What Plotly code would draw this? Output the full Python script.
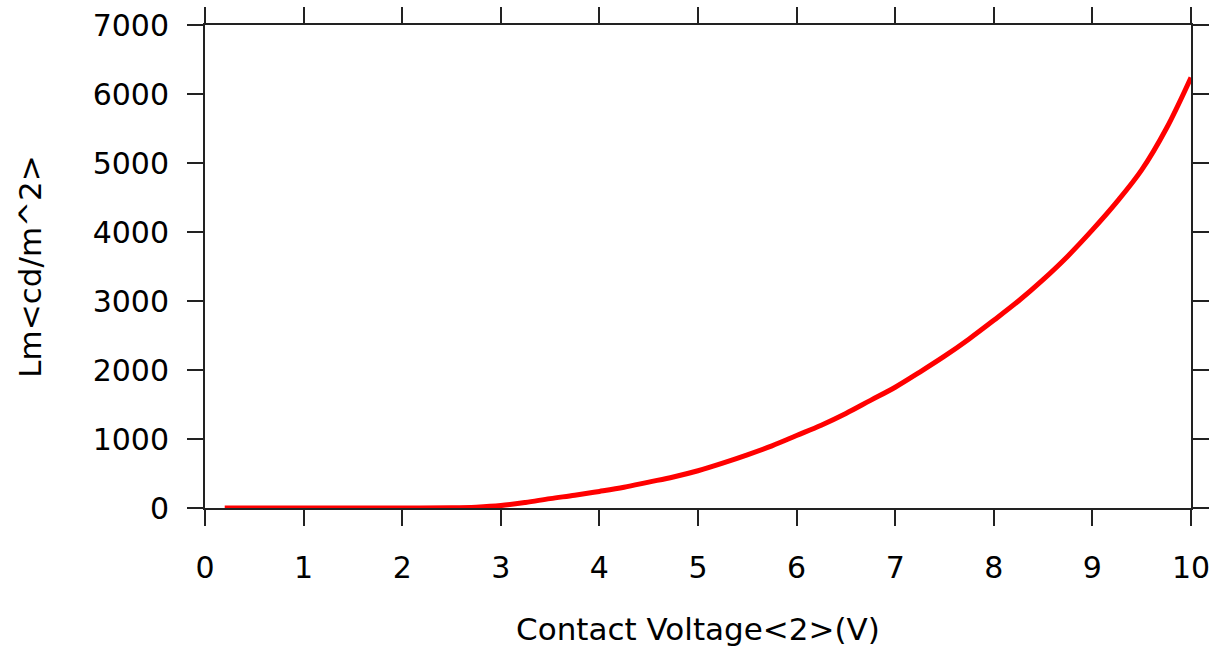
import plotly.graph_objects as go

voltage = [0.2, 0.5, 1.0, 1.5, 2.0, 2.5, 2.75, 3.0, 3.25, 3.5, 3.75, 4.0, 4.25, 4.5, 4.75,
           5.0, 5.25, 5.5, 5.75, 6.0, 6.25, 6.5, 6.75, 7.0, 7.25, 7.5, 7.75,
           8.0, 8.25, 8.5, 8.75, 9.0, 9.25, 9.5, 9.75, 10.0]
luminance = [0, 0, 0, 0, 0, 3, 12, 35, 80, 136, 185, 240, 300, 375, 450,
             540, 650, 770, 900, 1050, 1200, 1370, 1560, 1750, 1970, 2200, 2450,
             2720, 3000, 3310, 3650, 4030, 4440, 4900, 5500, 6240]

x_ticks = list(range(0, 11))
y_ticks = list(range(0, 7001, 1000))

axis_color = "#222222"
font_family = "DejaVu Sans"

fig = go.Figure()
fig.add_trace(go.Scatter(
    x=voltage, y=luminance, mode="lines",
    line=dict(color="#ff0000", width=5, shape="spline", smoothing=1.0),
    showlegend=False,
))

common = dict(
    showline=True, linecolor=axis_color, linewidth=2,
    ticks="outside", ticklen=16, tickwidth=2, tickcolor=axis_color,
    mirror="ticks", showgrid=False, zeroline=False,
    tickfont=dict(family=font_family, size=30, color="#000000"),
    layer="above traces",
)

fig.update_layout(
    width=1225, height=650,
    margin=dict(l=205, r=34, t=25, b=142, autoexpand=False),
    paper_bgcolor="white", plot_bgcolor="white",
    font=dict(family=font_family, color="#000000"),
    xaxis=dict(
        range=[0, 10], tickvals=x_ticks, ticktext=[str(v) for v in x_ticks],
        ticklabelstandoff=16,
        title=dict(text="Contact Voltage<2>(V)", font=dict(family=font_family, size=31), standoff=34),
        **common,
    ),
    yaxis=dict(
        range=[0, 7000], tickvals=y_ticks, ticktext=[str(v) for v in y_ticks],
        ticklabelstandoff=12,
        title=dict(text="Lm<cd/m^2>", font=dict(family=font_family, size=31), standoff=42),
        **common,
    ),
)

fig.write_html("out.html")
